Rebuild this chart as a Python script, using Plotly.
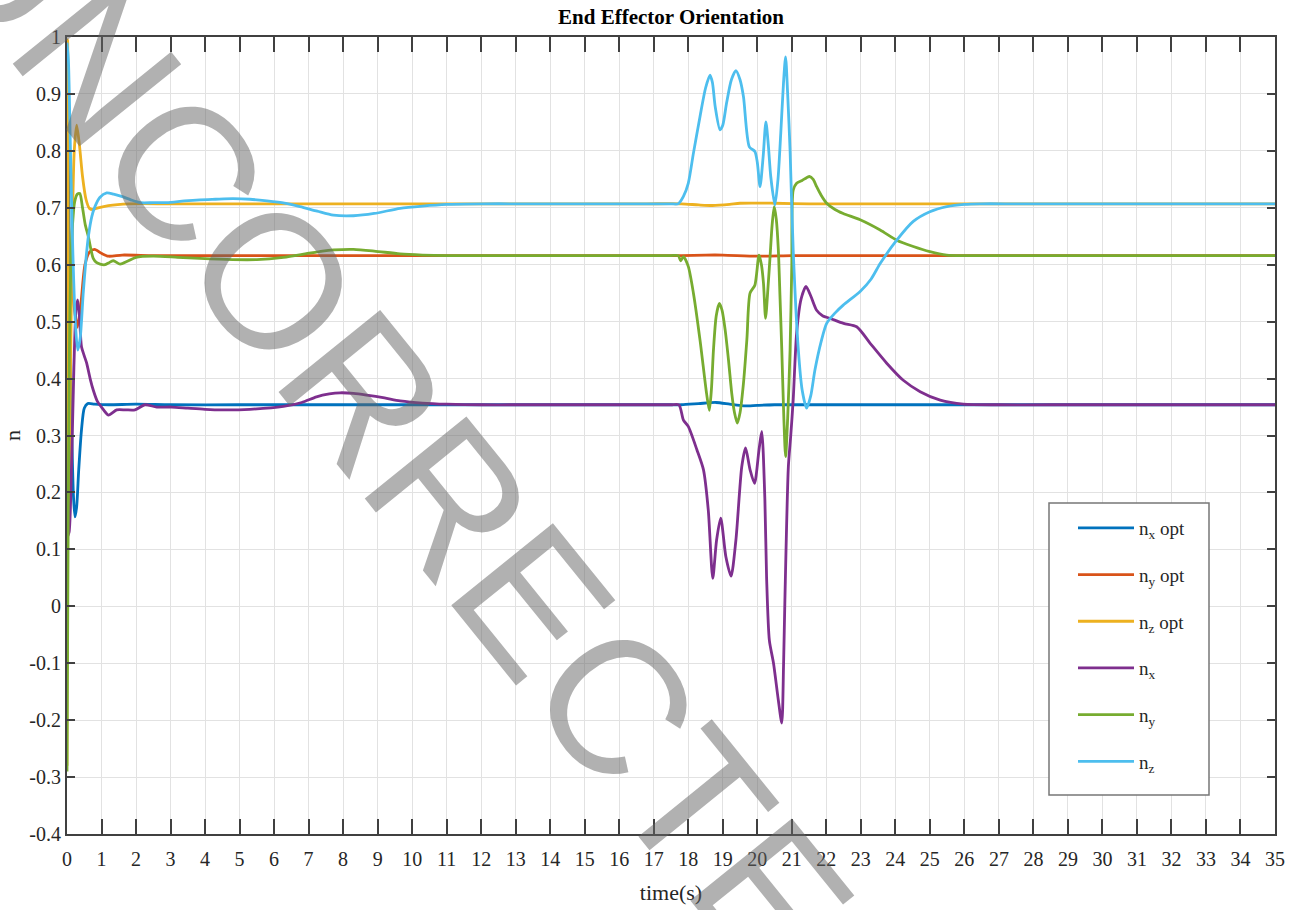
import plotly.graph_objects as go

# ---------------- data (time in s, value) ----------------
NX_OPT = [(0, 0.97), (0.03, 0.85), (0.08, 0.55), (0.14, 0.30), (0.19, 0.19), (0.23, 0.157),
          (0.28, 0.175), (0.34, 0.24), (0.42, 0.31), (0.5, 0.348), (0.6, 0.356), (0.8, 0.355),
          (1.2, 0.354), (2, 0.355), (3, 0.354), (5, 0.354), (7, 0.354), (9, 0.354), (11, 0.354),
          (13, 0.354), (15, 0.354), (16.5, 0.354), (17.5, 0.354), (17.8, 0.354), (18.3, 0.356),
          (18.8, 0.358), (19.2, 0.355), (19.6, 0.352), (20.0, 0.353), (20.5, 0.354), (21, 0.354),
          (22, 0.354), (24, 0.354), (26, 0.354), (28, 0.354), (30, 0.354), (32, 0.354), (35, 0.354)]

NY_OPT = [(0, -0.10), (0.03, 0.45), (0.08, 0.60), (0.15, 0.56), (0.22, 0.52), (0.30, 0.49),
          (0.40, 0.53), (0.52, 0.60), (0.65, 0.622), (0.80, 0.627), (1.0, 0.620), (1.2, 0.615),
          (1.6, 0.617), (2.5, 0.616), (4, 0.616), (6, 0.616), (8, 0.616), (10, 0.616),
          (12, 0.616), (14, 0.616), (16, 0.616), (17.3, 0.616), (17.8, 0.616), (18.5, 0.617),
          (19, 0.617), (20, 0.615), (21, 0.616), (22, 0.616), (24, 0.616), (26, 0.616),
          (28, 0.616), (30, 0.616), (32, 0.616), (35, 0.616)]

NZ_OPT = [(0, -0.28), (0.02, 0.995), (0.06, 0.15), (0.10, 0.40), (0.15, 0.65), (0.21, 0.80),
          (0.28, 0.845), (0.36, 0.81), (0.45, 0.755), (0.55, 0.715), (0.65, 0.699), (0.75, 0.697),
          (0.9, 0.700), (1.2, 0.704), (1.8, 0.707), (3, 0.707), (5, 0.707), (7, 0.707),
          (9, 0.707), (11, 0.707), (13, 0.707), (15, 0.707), (16.8, 0.707), (17.8, 0.707),
          (18.3, 0.705), (18.7, 0.704), (19.2, 0.706), (19.5, 0.708), (20.5, 0.708), (21.5, 0.707),
          (23, 0.707), (25, 0.707), (27, 0.707), (29, 0.707), (31, 0.707), (33, 0.707), (35, 0.707)]

NX = [(0, 0.12), (0.06, 0.13), (0.12, 0.22), (0.20, 0.42), (0.26, 0.52), (0.31, 0.538),
      (0.36, 0.51), (0.42, 0.456), (0.50, 0.44), (0.57, 0.427), (0.67, 0.40), (0.76, 0.38),
      (0.88, 0.36), (1.0, 0.35), (1.2, 0.336), (1.44, 0.345), (1.7, 0.345), (1.97, 0.345),
      (2.26, 0.354), (2.6, 0.35), (3.03, 0.35), (3.5, 0.348), (4.0, 0.346), (4.5, 0.345),
      (5.3, 0.346), (6.27, 0.351), (6.8, 0.358), (7.23, 0.368), (7.6, 0.373), (7.91, 0.375),
      (8.3, 0.374), (8.68, 0.371), (9.2, 0.366), (9.65, 0.361), (10.3, 0.357), (11, 0.355),
      (12, 0.354), (13, 0.354), (14, 0.354), (15, 0.354), (16, 0.354), (17, 0.354),
      (17.5, 0.354), (17.73, 0.354), (17.86, 0.327), (18.0, 0.316), (18.25, 0.275), (18.44, 0.24),
      (18.58, 0.169), (18.71, 0.049), (18.82, 0.116), (18.94, 0.155), (19.09, 0.087),
      (19.24, 0.053), (19.38, 0.116), (19.55, 0.245), (19.66, 0.278), (19.79, 0.24),
      (19.92, 0.216), (20.05, 0.275), (20.13, 0.307), (20.22, 0.187), (20.27, 0.05),
      (20.35, -0.06), (20.47, -0.10), (20.61, -0.165), (20.71, -0.205), (20.76, -0.106),
      (20.8, 0.011), (20.9, 0.245), (20.97, 0.30), (21.04, 0.362), (21.14, 0.48), (21.27, 0.54),
      (21.41, 0.562), (21.55, 0.545), (21.72, 0.52), (21.9, 0.51), (22.1, 0.506), (22.5, 0.497),
      (22.88, 0.491), (23.27, 0.462), (23.75, 0.427), (24.23, 0.397), (24.72, 0.377),
      (25.3, 0.362), (25.97, 0.355), (27, 0.354), (28.5, 0.354), (30, 0.354), (32, 0.354),
      (35, 0.354)]

NY = [(0, -0.29), (0.03, 0.10), (0.07, 0.45), (0.11, 0.60), (0.16, 0.67), (0.22, 0.71),
      (0.30, 0.724), (0.37, 0.725), (0.45, 0.70), (0.53, 0.67), (0.62, 0.649), (0.70, 0.625),
      (0.76, 0.611), (0.85, 0.604), (0.96, 0.601), (1.1, 0.600), (1.2, 0.603), (1.34, 0.607),
      (1.54, 0.601), (1.75, 0.606), (2.0, 0.613), (2.5, 0.615), (3.2, 0.613), (3.85, 0.611),
      (4.8, 0.609), (5.5, 0.609), (6.27, 0.613), (6.9, 0.619), (7.4, 0.624), (7.72, 0.626),
      (8.3, 0.627), (8.9, 0.624), (9.65, 0.619), (10.3, 0.617), (11, 0.616), (12, 0.616),
      (13, 0.616), (14, 0.616), (15, 0.616), (16, 0.616), (17, 0.616), (17.5, 0.616),
      (17.71, 0.616), (17.78, 0.607), (17.86, 0.614), (18.0, 0.597), (18.15, 0.55),
      (18.34, 0.468), (18.53, 0.374), (18.61, 0.344), (18.67, 0.38), (18.73, 0.45),
      (18.81, 0.51), (18.9, 0.532), (18.98, 0.52), (19.07, 0.485), (19.17, 0.43),
      (19.26, 0.374), (19.34, 0.34), (19.42, 0.322), (19.5, 0.34), (19.6, 0.392), (19.7, 0.47),
      (19.79, 0.55), (19.93, 0.564), (20.05, 0.617), (20.12, 0.60), (20.18, 0.567),
      (20.24, 0.506), (20.31, 0.56), (20.37, 0.614), (20.43, 0.67), (20.49, 0.702),
      (20.55, 0.68), (20.61, 0.626), (20.66, 0.54), (20.71, 0.45), (20.77, 0.33),
      (20.82, 0.263), (20.88, 0.33), (20.95, 0.45), (21.0, 0.60), (21.04, 0.731),
      (21.14, 0.743), (21.3, 0.748), (21.51, 0.755), (21.62, 0.75), (21.72, 0.737),
      (21.85, 0.722), (22.01, 0.708), (22.25, 0.697), (22.49, 0.69), (22.98, 0.679),
      (23.56, 0.661), (24.04, 0.643), (24.52, 0.632), (25.0, 0.623), (25.49, 0.617),
      (26, 0.616), (27, 0.616), (28.5, 0.616), (30, 0.616), (32, 0.616), (35, 0.616)]

NZ = [(0, 0.99), (0.04, 0.96), (0.10, 0.80), (0.17, 0.62), (0.24, 0.50), (0.31, 0.45),
      (0.38, 0.47), (0.47, 0.55), (0.55, 0.61), (0.62, 0.65), (0.72, 0.685), (0.81, 0.702),
      (0.95, 0.718), (1.15, 0.726), (1.35, 0.724), (1.58, 0.72), (1.85, 0.714), (2.12, 0.709),
      (2.5, 0.709), (2.89, 0.709), (3.4, 0.712), (3.85, 0.714), (4.3, 0.715), (4.81, 0.716),
      (5.3, 0.715), (5.79, 0.712), (6.3, 0.708), (6.75, 0.702), (7.25, 0.694), (7.72, 0.687),
      (8.3, 0.686), (8.9, 0.69), (9.65, 0.699), (10.3, 0.703), (11, 0.706), (12, 0.707),
      (13, 0.707), (14, 0.707), (15, 0.707), (16, 0.707), (17, 0.707), (17.5, 0.707),
      (17.71, 0.707), (17.86, 0.72), (18.0, 0.743), (18.15, 0.796), (18.34, 0.86),
      (18.5, 0.91), (18.63, 0.933), (18.7, 0.92), (18.78, 0.878), (18.92, 0.837),
      (19.0, 0.845), (19.11, 0.884), (19.25, 0.925), (19.38, 0.941), (19.5, 0.925),
      (19.6, 0.895), (19.77, 0.807), (19.93, 0.799), (20.0, 0.78), (20.08, 0.737),
      (20.17, 0.79), (20.25, 0.851), (20.32, 0.81), (20.39, 0.755), (20.51, 0.705),
      (20.6, 0.75), (20.68, 0.831), (20.76, 0.92), (20.82, 0.965), (20.88, 0.90),
      (20.95, 0.801), (21.04, 0.626), (21.19, 0.45), (21.3, 0.38), (21.43, 0.348),
      (21.55, 0.37), (21.67, 0.415), (21.85, 0.465), (22.01, 0.497), (22.25, 0.515),
      (22.49, 0.529), (22.98, 0.553), (23.3, 0.575), (23.56, 0.602), (24.04, 0.643),
      (24.52, 0.676), (25.0, 0.693), (25.49, 0.702), (26.0, 0.706), (26.45, 0.707),
      (27.5, 0.707), (29, 0.707), (31, 0.707), (33, 0.707), (35, 0.707)]

SERIES_NAMES = ["n<sub>x</sub> opt", "n<sub>y</sub> opt", "n<sub>z</sub> opt",
                "n<sub>x</sub>", "n<sub>y</sub>", "n<sub>z</sub>"]
SERIES_DATA = [NX_OPT, NY_OPT, NZ_OPT, NX, NY, NZ]
SERIES_COLORS = ["#0072BD", "#D95319", "#EDB120", "#7E2F8E", "#77AC30", "#4DBEEE"]

X_TICKS = list(range(0, 36))
X_TICK_TEXT = [str(v) for v in X_TICKS]
Y_TICKS = [-0.4, -0.3, -0.2, -0.1, 0, 0.1, 0.2, 0.3, 0.4, 0.5, 0.6, 0.7, 0.8, 0.9, 1]
Y_TICK_TEXT = ["-0.4", "-0.3", "-0.2", "-0.1", "0", "0.1", "0.2", "0.3", "0.4", "0.5",
               "0.6", "0.7", "0.8", "0.9", "1"]

TITLE = "End Effector Orientation"
X_TITLE = "time(s)"
Y_TITLE = "n"
WATERMARK = "UNCORRECTED"

SERIF = "Liberation Serif, Times New Roman, serif"

W, H = 1292, 910
ML, MR, MT, MB = 67, 17, 37, 76
PW, PH = W - ML - MR, H - MT - MB


def px_to_paper_x(px):
    return (px - ML) / PW


def px_to_paper_y(py):
    return (H - MB - py) / PH


fig = go.Figure()
for i, (name, data, color) in enumerate(zip(SERIES_NAMES, SERIES_DATA, SERIES_COLORS)):
    t = [p[0] for p in data]
    v = [p[1] for p in data]
    fig.add_trace(go.Scatter(
        x=t, y=v, mode="lines", name=name, legendgroup=f"g{i}",
        line=dict(color=color, width=2.8, shape="spline", smoothing=0.7),
    ))

axis_common = dict(
    showline=True, linecolor="#404040", linewidth=2, mirror="ticks",
    ticks="inside", tickcolor="#404040", tickwidth=1.5,
    showgrid=True, gridcolor="#e2e2e2", gridwidth=1,
    zeroline=False, automargin=False,
    tickfont=dict(family=SERIF, size=20, color="#262626"),
)

fig.update_layout(
    width=W, height=H,
    margin=dict(l=ML, r=MR, t=MT, b=MB),
    paper_bgcolor="white", plot_bgcolor="white",
    title=dict(text=f"<b>{TITLE}</b>", x=0.5, xref="paper", y=1 - 17 / H, yref="container",
               xanchor="center", yanchor="middle",
               font=dict(family=SERIF, size=21, color="#000000")),
    xaxis=dict(range=[0, 35], tickvals=X_TICKS, ticktext=X_TICK_TEXT, ticklen=15,
               ticklabelstandoff=6,
               title=dict(text=X_TITLE, font=dict(family=SERIF, size=22, color="#262626"),
                          standoff=16),
               **axis_common),
    yaxis=dict(range=[-0.4, 1], tickvals=Y_TICKS, ticktext=Y_TICK_TEXT, ticklen=8,
               title=dict(text=Y_TITLE, font=dict(family=SERIF, size=22, color="#262626"),
                          standoff=12),
               **axis_common),
    legend=dict(x=px_to_paper_x(1073), y=px_to_paper_y(509), xanchor="left", yanchor="top",
                bgcolor="rgba(0,0,0,0)", borderwidth=0,
                font=dict(family=SERIF, size=19, color="#262626"),
                traceorder="grouped", tracegroupgap=19, itemwidth=56),
    showlegend=True,
)

# legend frame (white box with grey border, behind the legend entries)
fig.add_shape(type="rect", xref="paper", yref="paper",
              x0=px_to_paper_x(1049), x1=px_to_paper_x(1209),
              y0=px_to_paper_y(795), y1=px_to_paper_y(503),
              fillcolor="white", line=dict(color="#777777", width=1.5), layer="above")

fig.add_annotation(
    text=WATERMARK, xref="paper", yref="paper", x=px_to_paper_x(433), y=px_to_paper_y(478),
    xanchor="center", yanchor="middle", showarrow=False, textangle=51,
    font=dict(family="Liberation Sans, Arial, sans-serif", size=190, color="rgba(100,100,100,0.5)"),
)

fig.write_html("out.html")
